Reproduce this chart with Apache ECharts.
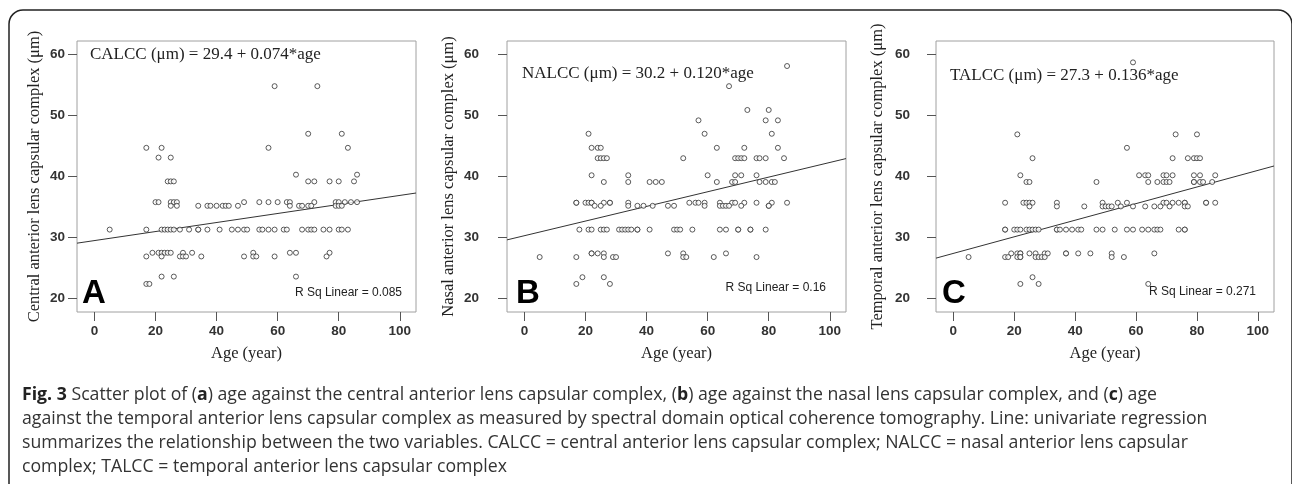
<!DOCTYPE html>
<html>
<head>
<meta charset="utf-8">
<script src="https://cdn.jsdelivr.net/npm/echarts@6/dist/echarts.min.js"></script>
<style>
html,body{margin:0;padding:0;background:#fff;}
#c{width:1292px;height:484px;}
</style>
</head>
<body>
<div id="c"></div>
<script>
// ---- Data ----
var xTicks = [0, 20, 40, 60, 80, 100];
var yTicks = [20, 30, 40, 50, 60];

// Panel A: central anterior lens capsular complex
var agesA = [17,22,57,83, 21,25, 70,81, 59,73, 66,86,
  24,25,26,70,72,77,80,85,
  20,21,25,26,27,49,54,57,60,63,64,72,79,80,82,84,86,
  25,27,34,37,38,40,42,43,44,47,64,67,68,70,71,79,80,81,
  5,17,22,23,24,25,26,28,31,34,34,37,41,45,47,49,50,54,55,57,59,62,63,68,70,71,72,75,77,80,81,83,
  19,21,22,23,24,25,29,32,52,64,66,77,
  17,22,28,29,30,35,49,52,53,59,76,
  22,26,66,
  17,18];
var valuesA = [44.6,44.6,44.6,44.6, 43.0,43.0, 46.9,46.9, 54.7,54.7, 40.2,40.2,
  39.1,39.1,39.1,39.1,39.1,39.1,39.1,39.1,
  35.7,35.7,35.7,35.7,35.7,35.7,35.7,35.7,35.7,35.7,35.7,35.7,35.7,35.7,35.7,35.7,35.7,
  35.1,35.1,35.1,35.1,35.1,35.1,35.1,35.1,35.1,35.1,35.1,35.1,35.1,35.1,35.1,35.1,35.1,35.1,
  31.2,31.2,31.2,31.2,31.2,31.2,31.2,31.2,31.2,31.2,31.2,31.2,31.2,31.2,31.2,31.2,31.2,31.2,31.2,31.2,31.2,31.2,31.2,31.2,31.2,31.2,31.2,31.2,31.2,31.2,31.2,31.2,
  27.4,27.4,27.4,27.4,27.4,27.4,27.4,27.4,27.4,27.4,27.4,27.4,
  26.8,26.8,26.8,26.8,26.8,26.8,26.8,26.8,26.8,26.8,26.8,
  23.5,23.5,23.5,
  22.3,22.3];

// Panel B: nasal anterior lens capsular complex
var agesB = [86, 67, 73,80, 57,79,83, 21,59,81,
  22,24,25,63,72,83,
  24,25,26,27,52,69,70,71,72,76,77,79,85,
  22,34,60,69,71,76,
  26,34,41,43,45,63,68,69,77,79,81,82,
  17,17,20,21,22,22,26,28,28,34,54,56,57,59,64,68,69,72,76,81,86,
  23,25,34,37,39,42,47,49,59,64,65,66,67,71,80,80,
  18,21,22,25,26,27,31,32,33,34,35,37,37,41,49,50,51,55,64,66,70,70,74,74,79,
  22,22,24,26,47,52,66,
  5,17,26,29,30,52,53,62,76,
  19,26,
  17,28];
var valuesB = [58.0, 54.7, 50.8,50.8, 49.1,49.1,49.1, 46.9,46.9,46.9,
  44.6,44.6,44.6,44.6,44.6,44.6,
  42.9,42.9,42.9,42.9,42.9,42.9,42.9,42.9,42.9,42.9,42.9,42.9,42.9,
  40.1,40.1,40.1,40.1,40.1,40.1,
  39.0,39.0,39.0,39.0,39.0,39.0,39.0,39.0,39.0,39.0,39.0,39.0,
  35.6,35.6,35.6,35.6,35.6,35.6,35.6,35.6,35.6,35.6,35.6,35.6,35.6,35.6,35.6,35.6,35.6,35.6,35.6,35.6,35.6,
  35.1,35.1,35.1,35.1,35.1,35.1,35.1,35.1,35.1,35.1,35.1,35.1,35.1,35.1,35.1,35.1,
  31.2,31.2,31.2,31.2,31.2,31.2,31.2,31.2,31.2,31.2,31.2,31.2,31.2,31.2,31.2,31.2,31.2,31.2,31.2,31.2,31.2,31.2,31.2,31.2,31.2,
  27.3,27.3,27.3,27.3,27.3,27.3,27.3,
  26.7,26.7,26.7,26.7,26.7,26.7,26.7,26.7,26.7,
  23.4,23.4,
  22.3,22.3];

// Panel C: temporal anterior lens capsular complex
var agesC = [59, 21,73,80, 57,
  26,72,77,79,80,81,
  22,61,63,64,69,70,72,79,81,86,
  24,25,47,64,67,69,70,71,79,79,81,82,85,
  17,23,24,25,26,34,49,54,57,69,70,72,74,76,76,83,83,86,
  25,34,43,49,50,51,52,55,59,63,66,68,71,76,77,
  17,17,20,21,22,24,25,26,27,28,34,34,35,37,39,41,42,47,49,53,57,59,62,64,66,67,68,74,76,76,
  19,21,22,22,25,27,30,31,37,37,41,45,52,66,
  5,17,18,21,22,22,27,28,29,30,52,56,
  26,
  22,28,64];
var valuesC = [58.6, 46.8,46.8,46.8, 44.6,
  42.9,42.9,42.9,42.9,42.9,42.9,
  40.1,40.1,40.1,40.1,40.1,40.1,40.1,40.1,40.1,40.1,
  39.0,39.0,39.0,39.0,39.0,39.0,39.0,39.0,39.0,39.0,39.0,39.0,39.0,
  35.6,35.6,35.6,35.6,35.6,35.6,35.6,35.6,35.6,35.6,35.6,35.6,35.6,35.6,35.6,35.6,35.6,35.6,
  35.0,35.0,35.0,35.0,35.0,35.0,35.0,35.0,35.0,35.0,35.0,35.0,35.0,35.0,35.0,
  31.2,31.2,31.2,31.2,31.2,31.2,31.2,31.2,31.2,31.2,31.2,31.2,31.2,31.2,31.2,31.2,31.2,31.2,31.2,31.2,31.2,31.2,31.2,31.2,31.2,31.2,31.2,31.2,31.2,31.2,
  27.3,27.3,27.3,27.3,27.3,27.3,27.3,27.3,27.3,27.3,27.3,27.3,27.3,27.3,
  26.7,26.7,26.7,26.7,26.7,26.7,26.7,26.7,26.7,26.7,26.7,26.7,
  23.4,
  22.3,22.3,22.3];

// Regression fits as printed on the chart: [intercept, slope]
var fitA = [29.4, 0.074];
var fitB = [30.2, 0.120];
var fitC = [27.3, 0.136];

var yTitles = ['Central anterior lens capsular complex (\u03bcm)',
               'Nasal anterior lens capsular complex (\u03bcm)',
               'Temporal anterior lens capsular complex (\u03bcm)'];
var xTitle = 'Age (year)';
var equations = ['CALCC (\u03bcm) = 29.4 + 0.074*age',
                 'NALCC (\u03bcm) = 30.2 + 0.120*age',
                 'TALCC (\u03bcm) = 27.3 + 0.136*age'];
var rsq = ['R Sq Linear = 0.085', 'R Sq Linear = 0.16', 'R Sq Linear = 0.271'];
var panelLetters = ['A', 'B', 'C'];

// ---- Layout ----
var XMIN = -5.7, XMAX = 105.3, YMIN = 17.7, YMAX = 62.1;
var grids = [
  {left: 77, right: 876, top: 41, bottom: 172},
  {left: 507, right: 446, top: 41, bottom: 172},
  {left: 936, right: 18, top: 41, bottom: 172}
];
var labelMargins = [3, 19, 17];
var nameGaps = [34, 50, 50];

function pairs(ages, vals) {
  var out = [];
  for (var i = 0; i < ages.length; i++) out.push([ages[i], vals[i]]);
  return out;
}
function fitLine(f) {
  return [[XMIN, f[0] + f[1] * XMIN], [XMAX, f[0] + f[1] * XMAX]];
}
var allData = [pairs(agesA, valuesA), pairs(agesB, valuesB), pairs(agesC, valuesC)];
var fits = [fitA, fitB, fitC];

var serif = '"Liberation Serif", "DejaVu Serif", serif';
var sans = '"Liberation Sans", Arial, sans-serif';

var xAxes = [], yAxes = [], series = [];
for (var p = 0; p < 3; p++) {
  xAxes.push({
    gridIndex: p, type: 'value', min: XMIN, max: XMAX,
    splitLine: {show: false},
    axisLine: {show: false, onZero: false},
    axisTick: {show: true, customValues: xTicks, length: 9, lineStyle: {color: '#555', width: 1}},
    axisLabel: {customValues: xTicks, margin: 12, color: '#333', fontFamily: sans, fontSize: 13.5, fontWeight: 'bold'},
    name: xTitle, nameLocation: 'middle', nameGap: 33,
    nameTextStyle: {fontFamily: serif, fontSize: 16.5, color: '#222'}
  });
  yAxes.push({
    gridIndex: p, type: 'value', min: YMIN, max: YMAX,
    splitLine: {show: false},
    axisLine: {show: false, onZero: false},
    axisTick: {show: true, customValues: yTicks, length: 9, lineStyle: {color: '#555', width: 1}},
    axisLabel: {customValues: yTicks, margin: labelMargins[p] + 9, color: '#333', fontFamily: sans, fontSize: 13.5, fontWeight: 'bold'},
    name: yTitles[p], nameLocation: 'middle', nameGap: nameGaps[p],
    nameTextStyle: {fontFamily: serif, fontSize: 16.5, color: '#222'}
  });
  series.push({
    type: 'scatter', xAxisIndex: p, yAxisIndex: p, data: allData[p],
    symbol: 'circle', symbolSize: 5,
    itemStyle: {color: '#fff', borderColor: '#333', borderWidth: 1},
    silent: true, z: 3
  });
  series.push({
    type: 'line', xAxisIndex: p, yAxisIndex: p, data: fitLine(fits[p]),
    showSymbol: false, symbol: 'none',
    lineStyle: {color: '#333', width: 1}, silent: true, z: 2
  });
}

var gridOpts = grids.map(function (g) {
  return {left: g.left, right: g.right, top: g.top, bottom: g.bottom, show: true,
          borderColor: '#a0a0a0', borderWidth: 1, backgroundColor: 'transparent'};
});

var graphics = [
  {type: 'rect', shape: {x: 9, y: 10, width: 1283, height: 520, r: 14},
   style: {fill: 'none', stroke: '#222', lineWidth: 1.5}, silent: true}
];
var eqPos = [[90, 55], [522, 74], [950, 76]];
var rsqPos = [[402, 293], [826, 288], [1256, 292]];
var letterPos = [[82, 294], [516, 294], [942, 294]];
for (var k = 0; k < 3; k++) {
  graphics.push({type: 'text', x: eqPos[k][0], y: eqPos[k][1], silent: true,
    style: {text: equations[k], font: '17px ' + serif, fill: '#222', verticalAlign: 'middle', align: 'left'}});
  graphics.push({type: 'text', x: rsqPos[k][0], y: rsqPos[k][1], silent: true,
    style: {text: rsq[k], font: '12px ' + sans, fill: '#222', verticalAlign: 'middle', align: 'right'}});
  graphics.push({type: 'text', x: letterPos[k][0], y: letterPos[k][1], silent: true,
    style: {text: panelLetters[k], font: 'bold 33px ' + sans, fill: '#000', verticalAlign: 'middle', align: 'left'}});
}

var captionLines = [
  '{b|Fig. 3} Scatter plot of ({b|a}) age against the central anterior lens capsular complex, ({b|b}) age against the nasal lens capsular complex, and ({b|c}) age',
  'against the temporal anterior lens capsular complex as measured by spectral domain optical coherence tomography. Line: univariate regression',
  'summarizes the relationship between the two variables. CALCC = central anterior lens capsular complex; NALCC = nasal anterior lens capsular',
  'complex; TALCC = temporal anterior lens capsular complex'
];
var capFont = '"Open Sans", "Noto Sans", sans-serif';
var capSize = 17.7;
for (var L = 0; L < captionLines.length; L++) {
  graphics.push({type: 'text', x: 22, y: 395 + L * 24, silent: true,
    style: {text: captionLines[L], fontFamily: capFont, fontSize: capSize, fill: '#333',
            verticalAlign: 'middle', align: 'left',
            rich: {b: {fontFamily: capFont, fontSize: capSize, fontWeight: 'bold', fill: '#222'}}}});
}

var chart = echarts.init(document.getElementById('c'), null, {renderer: 'canvas'});
chart.setOption({
  animation: false,
  backgroundColor: '#fff',
  grid: gridOpts,
  xAxis: xAxes,
  yAxis: yAxes,
  series: series,
  graphic: graphics
});
</script>
</body>
</html>
